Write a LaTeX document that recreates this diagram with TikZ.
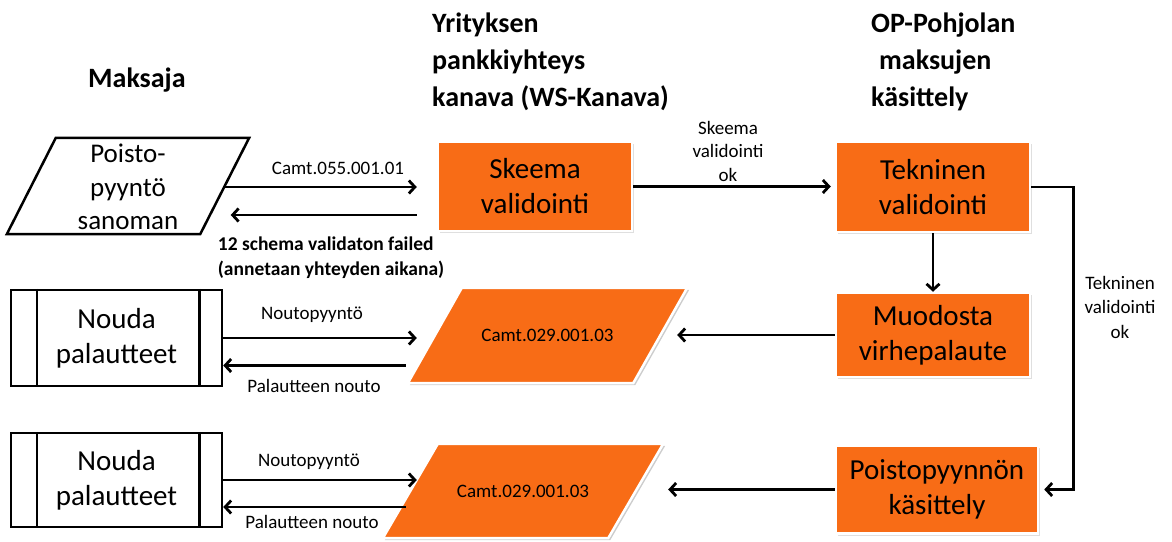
\documentclass[tikz,border=0pt]{standalone}
\usepackage{fontspec}
\setmainfont{Carlito}
\usetikzlibrary{arrows.meta,calc,backgrounds,shadows}
\definecolor{orng}{RGB}{248,108,22}
\begin{document}
\begin{tikzpicture}[x=1pt,y=-1pt,
  box/.style={rectangle, fill=orng, draw=white, line width=2.5pt, inner sep=0pt, align=center,
    font=\fontsize{29}{35}\selectfont,
    drop shadow={shadow xshift=2pt, shadow yshift=-2pt, opacity=0.25}},
  para/.style={rectangle, inner sep=0pt, align=center},
  proc/.style={rectangle, draw=black, line width=2.5pt, minimum width=211pt, inner sep=0pt,
    align=center, font=\fontsize{29}{35}\selectfont},
  arr/.style={line width=2.8pt, -{Straight Barb[length=6pt,width=13pt]}},
  lbl/.style={font=\fontsize{19}{23.5}\selectfont, align=center, inner sep=0pt},
  hdr/.style={font=\bfseries\fontsize{28}{37}\selectfont, align=left, inner sep=0pt}
]
\useasboundingbox (0,0) rectangle (1172,541);

% headers
\node[hdr, anchor=base west] (hmaksaja) at (88,87) {Maksaja};
\node[hdr, anchor=north west] (hyritys) at (432,13) {Yrityksen\\pankkiyhteys\\kanava (WS-Kanava)};
\node[hdr, anchor=north west] (hop) at (871,13) {OP-Pohjolan\\\hspace*{8pt}maksujen\\k\"asittely};

% orange process boxes
\node[box, minimum width=194pt, minimum height=89pt] (skeema) at (535,186.5) {Skeema\\validointi};
\node[box, minimum width=194pt, minimum height=90pt] (tekninen) at (933,187) {Tekninen\\validointi};
\node[box, minimum width=194pt, minimum height=84pt] (muodosta) at (933,335) {Muodosta\\virhepalaute};
\node[box, minimum width=202pt, minimum height=88pt] (kasittely) at (937,489.5) {Poistopyynn\"on\\k\"asittely};

% parallelogram bodies (named)
\node[para, minimum width=193pt, minimum height=96pt, font=\fontsize{27}{33.5}\selectfont] (poisto) at (128,187) {Poisto-\\pyynt\"o\\sanoman};
\node[para, minimum width=225pt, minimum height=95pt, font=\fontsize{19}{23}\selectfont] (camt1) at (547.5,335.5) {Camt.029.001.03};
\node[para, minimum width=225pt, minimum height=94pt, font=\fontsize{19}{23}\selectfont] (camt2) at (523,491) {Camt.029.001.03};

% predefined process boxes
\node[proc, minimum height=96pt] (nouda1) at (116.5,338) {Nouda\\palautteet};
\node[proc, minimum height=94pt] (nouda2) at (116.5,480) {Nouda\\palautteet};
\foreach \n in {nouda1,nouda2}{
  \draw[line width=2.5pt] ([xshift=27pt]\n.north west) -- ([xshift=27pt]\n.south west);
  \draw[line width=2.5pt] ([xshift=-24pt]\n.north east) -- ([xshift=-24pt]\n.south east);
}

\begin{scope}[on background layer]
  \draw[line width=2.5pt, line join=miter] ([xshift=24.5pt,yshift=1pt]poisto.north west) -- ([xshift=24.5pt,yshift=1pt]poisto.north east)
     -- ([xshift=-24.5pt,yshift=1pt]poisto.south east) -- ([xshift=-24.5pt,yshift=1pt]poisto.south west) -- cycle;
  \fill[black, opacity=0.2] ([xshift=29pt,yshift=-2pt]camt1.north west) -- ([xshift=29pt,yshift=-2pt]camt1.north east)
     -- ([xshift=-25pt,yshift=-2pt]camt1.south east) -- ([xshift=-25pt,yshift=-2pt]camt1.south west) -- cycle;
  \filldraw[fill=orng, draw=white, line width=2.5pt] ([xshift=27pt]camt1.north west) -- ([xshift=27pt]camt1.north east)
     -- ([xshift=-27pt]camt1.south east) -- ([xshift=-27pt]camt1.south west) -- cycle;
  \fill[black, opacity=0.2] ([xshift=29.5pt,yshift=-2pt]camt2.north west) -- ([xshift=29.5pt,yshift=-2pt]camt2.north east)
     -- ([xshift=-25.5pt,yshift=-2pt]camt2.south east) -- ([xshift=-25.5pt,yshift=-2pt]camt2.south west) -- cycle;
  \filldraw[fill=orng, draw=white, line width=2.5pt] ([xshift=27.5pt]camt2.north west) -- ([xshift=27.5pt]camt2.north east)
     -- ([xshift=-27.5pt]camt2.south east) -- ([xshift=-27.5pt]camt2.south west) -- cycle;
\end{scope}

% connector helper coordinates
\coordinate (sin) at ($(skeema.west)+(-20pt,0)$);
\coordinate (sout) at ($(skeema.west)+(-20pt,-28.5pt)$);
\coordinate (pback) at ($(poisto.east)+(6pt,0)$);
\coordinate (tin) at ($(tekninen.west)+(-4pt,0)$);
\coordinate (loopx) at ($(tekninen.east)+(42pt,0)$);
\coordinate (kin) at ($(kasittely.east)+(5pt,0)$);
\coordinate (c1r) at ($(camt1.east)+(17pt,0)$);
\coordinate (c2r) at ($(camt2.east)+(32.5pt,0)$);
\coordinate (c1in) at ($(camt1.west)+(-18pt,0)$);
\coordinate (c1out) at ($(camt1.west)+(-29pt,-30pt)$);
\coordinate (c2in) at ($(camt2.west)+(6.5pt,0)$);
\coordinate (c2out) at ($(camt2.west)+(-4.5pt,-16pt)$);

% connectors
\draw[arr] (poisto.east) -- (poisto.east -| sin);
\draw[arr] (sout) -- (sout -| pback);
\draw[arr] (skeema.east) -- (skeema.east -| tin);
\draw[arr] (tekninen.south) -- (muodosta.north);
\draw[arr] (tekninen.east) -- (loopx) |- (kin);
\draw[arr] (muodosta.west) -- (muodosta.west -| c1r);
\draw[arr] (kasittely.west) -- (kasittely.west -| c2r);
\draw[arr] (nouda1.east) -- (nouda1.east -| c1in);
\draw[arr] (c1out) -- (c1out -| nouda1.east);
\draw[arr] (nouda2.east) -- (nouda2.east -| c2in);
\draw[arr] (c2out) -- (c2out -| nouda2.east);

% labels
\node[lbl] (l055) at (338,168) {Camt.055.001.01};
\node[lbl, font=\bfseries\fontsize{19.5}{25}\selectfont, align=left] (lfail) at (331,257.5) {12 schema validaton failed\\(annetaan yhteyden aikana)};
\node[lbl] (lskok) at (728,151) {Skeema\\validointi\\ok};
\node[lbl, font=\fontsize{19}{24.5}\selectfont] (ltekok) at (1120,307) {Tekninen\\validointi\\ok};
\node[lbl] (lnp1) at (312,315) {Noutopyynt\"o};
\node[lbl] (lpn1) at (314,386) {Palautteen nouto};
\node[lbl] (lnp2) at (309,462) {Noutopyynt\"o};
\node[lbl] (lpn2) at (312,522) {Palautteen nouto};
\end{tikzpicture}
\end{document}
